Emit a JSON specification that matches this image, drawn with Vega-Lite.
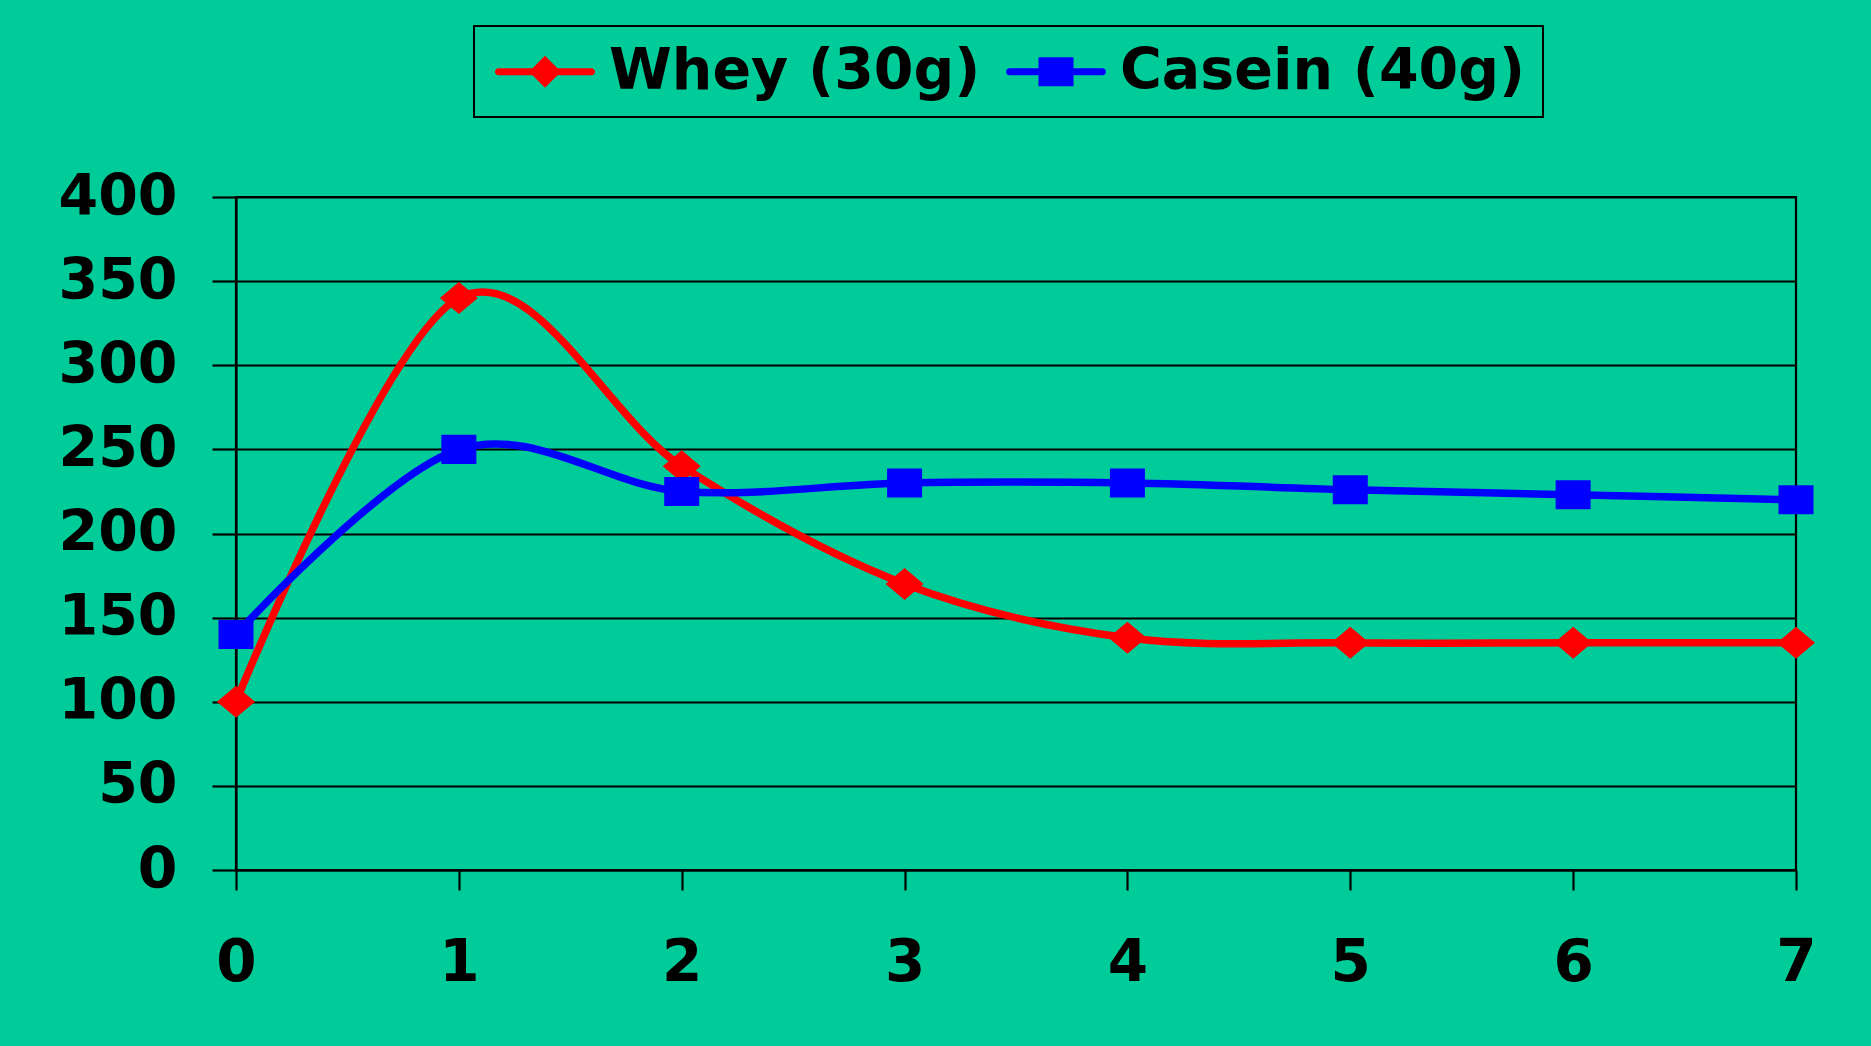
{
  "$schema": "https://vega.github.io/schema/vega-lite/v6.json",
  "width": 1560,
  "height": 673,
  "autosize": {"type": "none"},
  "padding": {"left": 236, "top": 197, "right": 75, "bottom": 176},
  "background": "#00CC99",
  "config": {
    "view": {"stroke": "black", "strokeWidth": 2.2, "fill": null},
    "axis": {
      "labelFont": "DejaVu Sans",
      "labelFontWeight": "bold",
      "labelFontSize": 57,
      "labelColor": "black",
      "domainColor": "black",
      "domainWidth": 2.2,
      "tickColor": "black",
      "tickWidth": 2.2,
      "gridColor": "black",
      "gridWidth": 2.2,
      "gridOpacity": 1,
      "title": null,
      "labelOverlap": false
    }
  },
  "data": {
    "values": [
      {"t": 0, "series": "Whey (30g)", "value": 100},
      {"t": 1, "series": "Whey (30g)", "value": 340},
      {"t": 2, "series": "Whey (30g)", "value": 240},
      {"t": 3, "series": "Whey (30g)", "value": 170},
      {"t": 4, "series": "Whey (30g)", "value": 138},
      {"t": 5, "series": "Whey (30g)", "value": 135},
      {"t": 6, "series": "Whey (30g)", "value": 135},
      {"t": 7, "series": "Whey (30g)", "value": 135},
      {"t": 0, "series": "Casein (40g)", "value": 140},
      {"t": 1, "series": "Casein (40g)", "value": 250},
      {"t": 2, "series": "Casein (40g)", "value": 225},
      {"t": 3, "series": "Casein (40g)", "value": 230},
      {"t": 4, "series": "Casein (40g)", "value": 230},
      {"t": 5, "series": "Casein (40g)", "value": 226},
      {"t": 6, "series": "Casein (40g)", "value": 223},
      {"t": 7, "series": "Casein (40g)", "value": 220}
    ]
  },
  "encoding": {
    "x": {
      "field": "t",
      "type": "quantitative",
      "scale": {"domain": [0, 7], "nice": false, "zero": false},
      "axis": {
        "values": [0, 1, 2, 3, 4, 5, 6, 7],
        "grid": false,
        "tickSize": 20,
        "labelPadding": 44,
        "labelFontSize": 58,
        "labelFlush": false
      }
    },
    "y": {
      "field": "value",
      "type": "quantitative",
      "scale": {"domain": [0, 400], "nice": false},
      "axis": {
        "values": [0, 50, 100, 150, 200, 250, 300, 350, 400],
        "grid": true,
        "tickSize": 24,
        "labelPadding": 35
      }
    },
    "color": {
      "field": "series",
      "type": "nominal",
      "scale": {"domain": ["Whey (30g)", "Casein (40g)"], "range": ["#ff0000", "#0000ff"]},
      "legend": {
        "orient": "none",
        "legendX": 238,
        "legendY": -171,
        "direction": "horizontal",
        "title": null,
        "labelFont": "DejaVu Sans",
        "labelFontWeight": "bold",
        "labelFontSize": 57,
        "labelColor": "black",
        "labelLimit": 2000,
        "labelOffset": 61,
        "columnPadding": 21,
        "padding": 17,
        "strokeColor": "black",
        "symbolSize": 1600,
        "symbolStrokeWidth": 0,
        "encode": {
          "legend": {"update": {"strokeWidth": {"value": 2}}},
          "symbols": {
            "update": {
              "shape": {"signal": "datum.value === 'Whey (30g)' ? 'M-1.05,-0.175L3.6,-0.175A0.175,0.175 0 0 1 3.6,0.175L-1.05,0.175A0.175,0.175 0 0 1 -1.05,-0.175Z M1.275,-0.8L2.075,0L1.275,0.8L0.475,0Z' : 'M-1.05,-0.175L3.6,-0.175A0.175,0.175 0 0 1 3.6,0.175L-1.05,0.175A0.175,0.175 0 0 1 -1.05,-0.175Z M0.4,-0.725L2.15,-0.725L2.15,0.725L0.4,0.725Z'"},
              "fill": {"signal": "datum.value === 'Whey (30g)' ? '#ff0000' : '#0000ff'"},
              "fillOpacity": {"value": 1},
              "opacity": {"value": 1},
              "strokeWidth": {"value": 0},
              "size": {"value": 1600}
            }
          }
        }
      }
    }
  },
  "layer": [
    {
      "mark": {"type": "line", "interpolate": "cardinal", "tension": 0, "strokeWidth": 7.5}
    },
    {
      "transform": [{"filter": "datum.series === 'Whey (30g)'"}],
      "mark": {"type": "point", "filled": true, "opacity": 1, "strokeWidth": 0, "size": 1444, "shape": "M-1,0L0,-0.842L1,0L0,0.842Z"}
    },
    {
      "transform": [{"filter": "datum.series === 'Casein (40g)'"}],
      "mark": {"type": "point", "filled": true, "opacity": 1, "strokeWidth": 0, "size": 1225, "shape": "M-1,-0.829L1,-0.829L1,0.829L-1,0.829Z"}
    }
  ]
}
